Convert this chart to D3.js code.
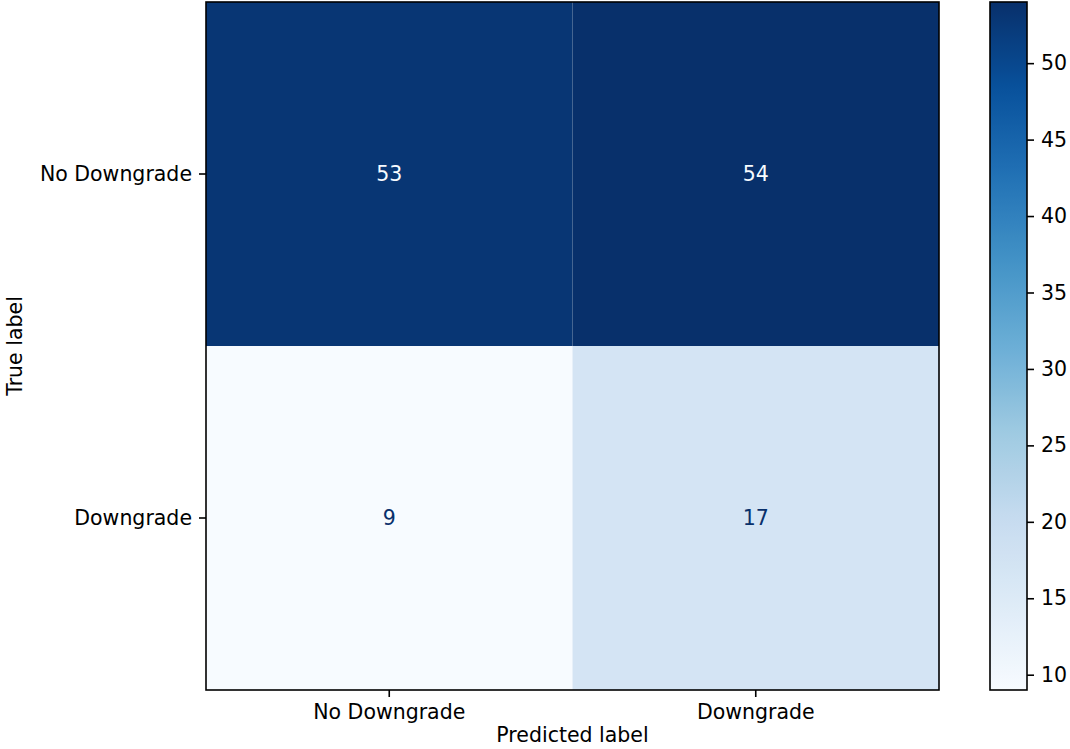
<!DOCTYPE html>
<html>
<head>
<meta charset="utf-8">
<script src="https://cdn.jsdelivr.net/npm/d3@7"></script>
<style>
  body { margin: 0; background: #fff; }
  svg { display: block; font-family: "DejaVu Sans", sans-serif; }
</style>
</head>
<body>
<svg id="chart" width="1070" height="749"></svg>
<script>
// Confusion matrix: rows = true label, columns = predicted label
const classLabels = ["No Downgrade", "Downgrade"];
const matrixRows = [
  [53, 54],
  [9, 17]
];
const colorbarTicks = [10, 15, 20, 25, 30, 35, 40, 45, 50];
const xAxisTitle = "Predicted label";
const yAxisTitle = "True label";

// Matplotlib "Blues" colour stops
const bluesStops = ["#f7fbff", "#deebf7", "#c6dbef", "#9ecae1", "#6baed6",
                    "#4292c6", "#2171b5", "#08519c", "#08306b"];

const svg = d3.select("#chart");
const plot = { left: 206, right: 939, top: 2, bottom: 690 };
const cbar = { left: 990, right: 1027 };
const fontSize = 20.5;

const cells = [];
matrixRows.forEach((row, i) => row.forEach((v, j) => cells.push({ row: i, col: j, value: v })));
const vMin = d3.min(cells, d => d.value);
const vMax = d3.max(cells, d => d.value);

const x = d3.scaleBand().domain(d3.range(classLabels.length)).range([plot.left, plot.right]).padding(0);
const y = d3.scaleBand().domain(d3.range(classLabels.length)).range([plot.top, plot.bottom]).padding(0);

const norm = d3.scaleLinear().domain([vMin, vMax]).range([0, 1]);
const stopPos = bluesStops.map((_, k) => k / (bluesStops.length - 1));
const blues = d3.scaleLinear().domain(stopPos).range(bluesStops).interpolate(d3.interpolateRgb);
const color = v => blues(norm(v));

// heatmap cells
svg.append("g").selectAll("rect").data(cells).join("rect")
  .attr("x", d => x(d.col))
  .attr("y", d => y(d.row))
  .attr("width", x.bandwidth())
  .attr("height", y.bandwidth())
  .attr("fill", d => color(d.value));

// cell annotations: light text on dark cells, dark text on light cells
const threshold = (vMin + vMax) / 2;
svg.append("g").selectAll("text").data(cells).join("text")
  .attr("x", d => x(d.col) + x.bandwidth() / 2)
  .attr("y", d => y(d.row) + y.bandwidth() / 2)
  .attr("text-anchor", "middle")
  .attr("dominant-baseline", "central")
  .attr("font-size", fontSize)
  .attr("fill", d => d.value > threshold ? blues(0) : blues(1))
  .text(d => d.value);

// frame
svg.append("rect")
  .attr("x", plot.left).attr("y", plot.top)
  .attr("width", plot.right - plot.left).attr("height", plot.bottom - plot.top)
  .attr("fill", "none").attr("stroke", "#000").attr("stroke-width", 1.6);

// axes
const xAxis = d3.axisBottom(x).tickFormat(i => classLabels[i]).tickSize(7).tickPadding(7);
const gx = svg.append("g").attr("transform", `translate(0,${plot.bottom})`).call(xAxis);
const yAxis = d3.axisLeft(y).tickFormat(i => classLabels[i]).tickSize(7).tickPadding(7);
const gy = svg.append("g").attr("transform", `translate(${plot.left},0)`).call(yAxis);
[gx, gy].forEach(g => {
  g.select(".domain").remove();
  g.selectAll(".tick line").attr("stroke", "#000").attr("stroke-width", 1.6);
  g.selectAll(".tick text").attr("font-size", fontSize).attr("fill", "#000")
    .attr("font-family", "DejaVu Sans, sans-serif");
});

svg.append("text")
  .attr("x", (plot.left + plot.right) / 2)
  .attr("y", 742)
  .attr("text-anchor", "middle")
  .attr("font-size", fontSize)
  .text(xAxisTitle);

svg.append("text")
  .attr("transform", `translate(22,${(plot.top + plot.bottom) / 2}) rotate(-90)`)
  .attr("text-anchor", "middle")
  .attr("font-size", fontSize)
  .text(yAxisTitle);

// colorbar
const cy = d3.scaleLinear().domain([vMin, vMax]).range([plot.bottom, plot.top]);
const grad = svg.append("defs").append("linearGradient")
  .attr("id", "cbarGrad").attr("x1", 0).attr("y1", 1).attr("x2", 0).attr("y2", 0);
grad.selectAll("stop").data(d3.range(0, 1.0001, 0.02)).join("stop")
  .attr("offset", t => t)
  .attr("stop-color", t => blues(t));

svg.append("rect")
  .attr("x", cbar.left).attr("y", plot.top)
  .attr("width", cbar.right - cbar.left).attr("height", plot.bottom - plot.top)
  .attr("fill", "url(#cbarGrad)")
  .attr("stroke", "#000").attr("stroke-width", 1.6);

const cAxis = d3.axisRight(cy).tickValues(colorbarTicks).tickSize(7).tickPadding(7);
const gc = svg.append("g").attr("transform", `translate(${cbar.right},0)`).call(cAxis);
gc.select(".domain").remove();
gc.selectAll(".tick line").attr("stroke", "#000").attr("stroke-width", 1.6);
gc.selectAll(".tick text").attr("font-size", fontSize).attr("fill", "#000")
  .attr("font-family", "DejaVu Sans, sans-serif");
</script>
</body>
</html>
